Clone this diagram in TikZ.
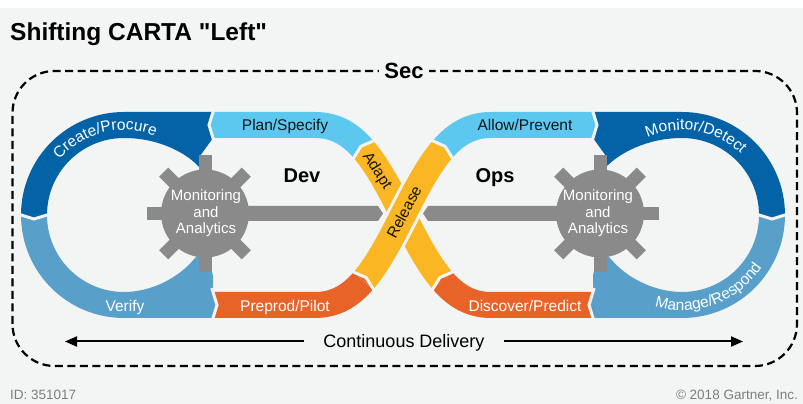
\documentclass[tikz,border=0pt]{standalone}
\usepackage{fontspec}
\setmainfont{Liberation Sans}[Ligatures=TeXOff]
\usetikzlibrary{calc,arrows.meta,decorations.text}

\definecolor{bgc}{RGB}{243,244,244}
\definecolor{cDark}{RGB}{4,99,166}
\definecolor{cLight}{RGB}{92,200,240}
\definecolor{cMid}{RGB}{88,160,201}
\definecolor{cOr}{RGB}{232,99,40}
\definecolor{cYel}{RGB}{251,182,36}
\definecolor{cGear}{RGB}{138,138,138}
\definecolor{cNote}{RGB}{125,125,125}
\definecolor{cInk}{RGB}{20,20,20}

% chevron joint between two band segments:
% #1 joint point, #2 point ahead along the flow, #3 colour of the segment that points in
\newcommand\chevmark[3]{%
  \coordinate (cvT) at ($(#1)!4pt!(#2)$);
  \coordinate (cvL) at ($(#1)!13pt!90:(#2)$);
  \coordinate (cvR) at ($(#1)!13pt!-90:(#2)$);
  \fill[#3] (cvL) -- (cvT) -- (cvR) -- cycle;
  \draw[gapline] ($(cvT)!1.3!(cvL)$) -- (cvT) -- ($(cvT)!1.3!(cvR)$);
}

\begin{document}
\begin{tikzpicture}[x=1pt,y=1pt,
  band/.style={line width=26pt},
  gapline/.style={draw=bgc, line width=3pt, line join=miter},
  lbl/.style={inner sep=0pt, font=\fontsize{15.5}{18}\selectfont, text height=11pt, text depth=0pt},
  geartext/.style={inner sep=0pt, align=center, text=white, font=\fontsize{15}{16.5}\selectfont},
  head/.style={inner sep=0pt, font=\bfseries\fontsize{20}{24}\selectfont, text height=14.5pt, text depth=0pt},
  note/.style={inner sep=0pt, text=cNote, font=\fontsize{13.5}{16}\selectfont},
  cdarrow/.style={line width=2pt, -{Triangle[length=12pt,width=10pt]}},
  frame/.style={line width=2.2pt, dash pattern=on 8pt off 4.5pt, rounded corners=42pt}
]
\useasboundingbox (0,0) rectangle (803,404);
\fill[white] (0,396) rectangle (803,404);
\fill[bgc] (0,0) rectangle (803,396);

% title
\node[anchor=base west, inner sep=0pt, font=\bfseries\fontsize{24.5}{28}\selectfont] (title) at (10,363.5) {Shifting CARTA "Left"};

% dashed Sec frame
\draw[frame] (12.5,38) rectangle (797,333);
\node[fill=bgc, inner xsep=5pt, inner ysep=2pt, font=\bfseries\fontsize{22}{26}\selectfont] (sec) at (404,333) {Sec};

% joints of the figure eight
\coordinate (O) at (403,189);
\coordinate (Ja) at (363.5,254.625); \coordinate (Fa) at (350,270.25);
\coordinate (Jb) at (442.5,123.375); \coordinate (Fb) at (429,139);
\coordinate (Jc) at (363.5,123.375); \coordinate (Fc) at (377,139);
\coordinate (Jd) at (442.5,254.625); \coordinate (Fd) at (456,270.25);

% left loop
\fill[cDark] (21,189) arc[start angle=180, end angle=90, radius=103] -- (213,292) -- (213,266) -- (200,248) -- (200,236)
  .. controls (188,250) and (160,266) .. (124,266) arc[start angle=90, end angle=180, radius=77] -- cycle;
\fill[cMid] (21,189) arc[start angle=180, end angle=270, radius=103] -- (213,86) -- (213,128) -- (208,150) -- (200,150)
  -- (195,146) .. controls (178,125) and (150,112) .. (124,112) arc[start angle=270, end angle=180, radius=77] -- cycle;
% right loop
\fill[cDark] (785,189) arc[start angle=0, end angle=90, radius=103] -- (593,292) -- (593,266) -- (606,248) -- (605,236)
  .. controls (618,250) and (646,266) .. (682,266) arc[start angle=90, end angle=0, radius=77] -- cycle;
\fill[cMid] (785,189) arc[start angle=0, end angle=-90, radius=103] -- (593,86) -- (593,128) -- (597,150) -- (605,150)
  -- (610,146) .. controls (627,125) and (656,112) .. (682,112) arc[start angle=-90, end angle=0, radius=77] -- cycle;

% straight runs and crossing
\draw[band, cLight] (213,279) -- (315,279) .. controls (335,279) and (350,270.25) .. (Ja);
\draw[band, cOr] (213,99) -- (315,99) .. controls (335,99) and (350,107.75) .. (Jc);
\draw[band, cLight] (Jd) .. controls (456,270.25) and (471,279) .. (491,279) -- (593,279);
\draw[band, cOr] (593,99) -- (491,99) .. controls (471,99) and (456,107.75) .. (Jb);
\draw[band, cYel] (Jb) .. controls (429,139) and (417,161.5) .. (O) .. controls (389,216.5) and (377,239) .. (Ja);
\draw[line width=32pt, bgc] (Jc) .. controls (377,139) and (389,161.5) .. (O) .. controls (417,216.5) and (429,239) .. (Jd);
\draw[band, cYel] (Jc) .. controls (377,139) and (389,161.5) .. (O) .. controls (417,216.5) and (429,239) .. (Jd);

% chevron joints
\coordinate (j1) at (213,279); \coordinate (f1) at (200,279);
\coordinate (j2) at (34,189);  \coordinate (f2) at (34,170);
\coordinate (j3) at (213,99);  \coordinate (f3) at (226,99);
\coordinate (j6) at (593,279); \coordinate (f6) at (606,279);
\coordinate (j7) at (772,189); \coordinate (f7) at (772,170);
\coordinate (j8) at (593,99);  \coordinate (f8) at (580,99);
\chevmark{j1}{f1}{cLight}
\chevmark{j2}{f2}{cDark}
\chevmark{j3}{f3}{cMid}
\chevmark{Jc}{Fc}{cOr}
\chevmark{Jd}{Fd}{cYel}
\chevmark{j6}{f6}{cLight}
\chevmark{j7}{f7}{cDark}
\chevmark{j8}{f8}{cMid}
\chevmark{Jb}{Fb}{cOr}
\chevmark{Ja}{Fa}{cYel}

% gears with their bars
\begin{scope}[shift={(205,190.5)}]
  \fill[cGear] (0,0) circle[radius=44];
  \foreach \a in {0,45,...,315} \fill[cGear, rotate=\a] (0,-6.5) rectangle (58.5,6.5);
  \fill[cGear] (30,-7.5) -- (173,-7.5) -- (178,0) -- (173,7.5) -- (30,7.5) -- cycle;
  \node[geartext] (gearL) at (1,0) {Monitoring\\and\\Analytics};
\end{scope}
\begin{scope}[shift={(600,190.5)}]
  \fill[cGear] (0,0) circle[radius=44];
  \foreach \a in {0,45,...,315} \fill[cGear, rotate=\a] (0,-6.5) rectangle (58.5,6.5);
  \fill[cGear] (-30,-7.5) -- (-172,-7.5) -- (-177,0) -- (-172,7.5) -- (-30,7.5) -- cycle;
  \node[geartext] (gearR) at (-2,0) {Monitoring\\and\\Analytics};
\end{scope}

% band labels
\node[lbl, text=cInk] (plan) at (285,279) {Plan/Specify};
\node[lbl, text=white] (verify) at (125,98) {Verify};
\node[lbl, text=white] (preprod) at (285,98) {Preprod/Pilot};
\node[lbl, text=cInk] (allow) at (525,279) {Allow/Prevent};
\node[lbl, text=white] (discover) at (525,98) {Discover/Predict};
\node[lbl, text=cInk, rotate=-57] (adapt) at (378,234) {Adapt};
\node[lbl, text=cInk, rotate=62] (release) at (404,192) {Release};

\path[decorate, decoration={text along path, text align=center,
  text={|\fontsize{15.5}{18}\selectfont\color{white}|Create/Procure}}]
  ($(124,189)+(160:85)$) arc[start angle=160, end angle=48, radius=85];
\path[decorate, decoration={text along path, text align=center,
  text={|\fontsize{15.5}{18}\selectfont\color{white}|Monitor/Detect}}]
  ($(682,189)+(136:85)$) arc[start angle=136, end angle=24, radius=85];
\path[decorate, decoration={text along path, text align=center,
  text={|\fontsize{15.5}{18}\selectfont\color{white}|Manage/Respond}}]
  ($(682,189)+(-125:95.5)$) arc[start angle=-125, end angle=-15, radius=95.5];

% Dev / Ops
\node[head] (dev) at (302,229) {Dev};
\node[head] (ops) at (495,229) {Ops};

% continuous delivery
\node[inner sep=0pt, font=\fontsize{18}{21}\selectfont, text height=13pt, text depth=0pt] (cd) at (404,62.5) {Continuous Delivery};
\coordinate (cdL) at (65,62.5);
\coordinate (cdR) at (743,62.5);
\draw[cdarrow] ([xshift=-19pt]cd.west) -- (cdL);
\draw[cdarrow] ([xshift=19pt]cd.east) -- (cdR);

% footer
\node[note, anchor=base west] (id) at (10,4) {ID: 351017};
\node[note, anchor=base east] (copy) at (798,4) {© 2018 Gartner, Inc.};
\end{tikzpicture}
\end{document}
